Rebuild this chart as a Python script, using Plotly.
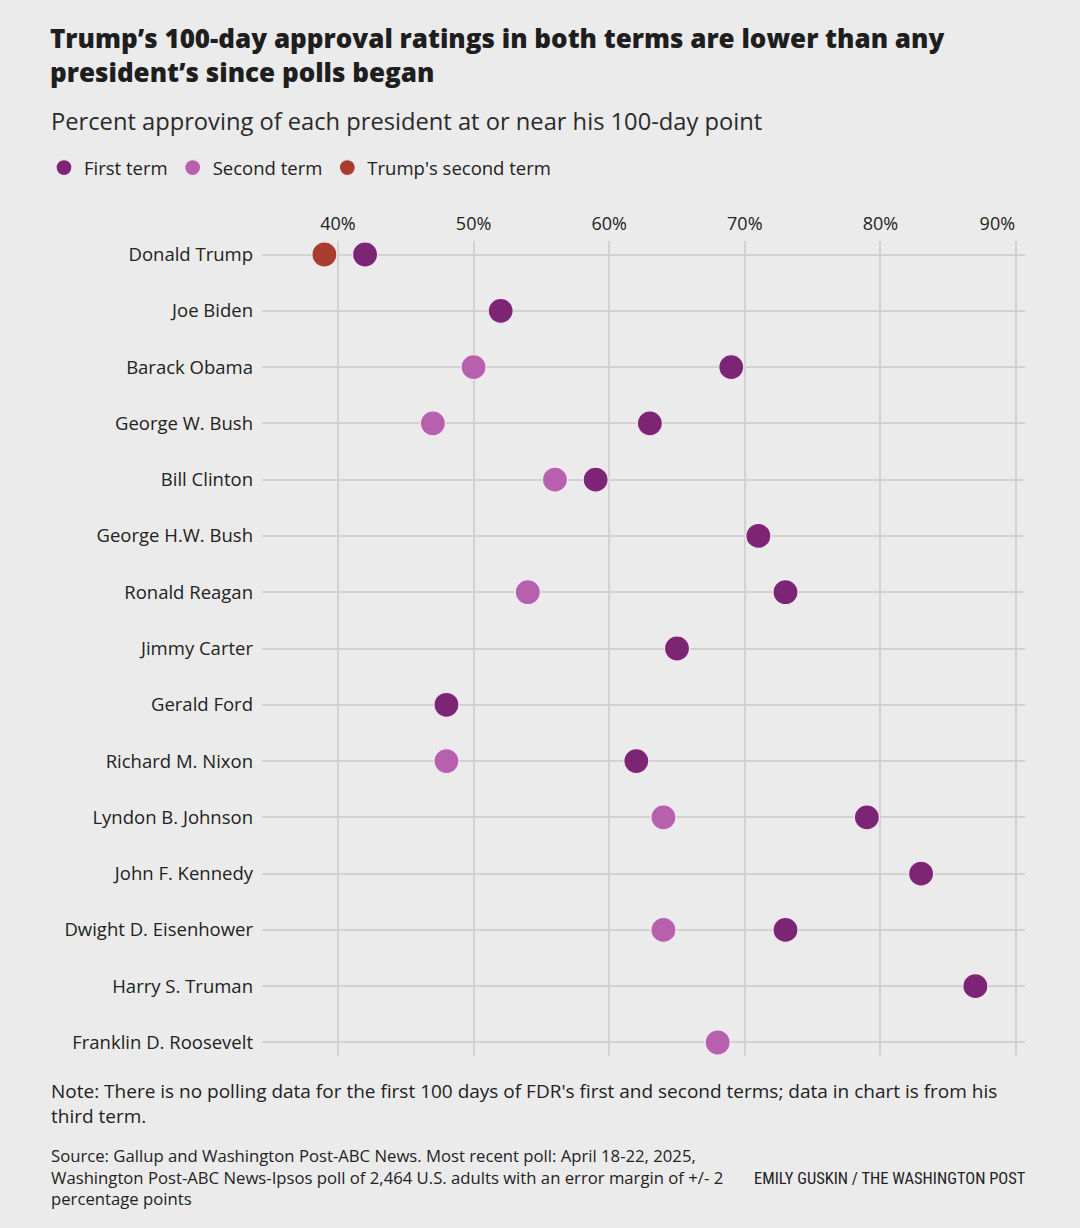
import plotly.graph_objects as go

presidents = ["Donald Trump", "Joe Biden", "Barack Obama", "George W. Bush", "Bill Clinton",
              "George H.W. Bush", "Ronald Reagan", "Jimmy Carter", "Gerald Ford",
              "Richard M. Nixon", "Lyndon B. Johnson", "John F. Kennedy",
              "Dwight D. Eisenhower", "Harry S. Truman", "Franklin D. Roosevelt"]

first_names = ["Donald Trump", "Joe Biden", "Barack Obama", "George W. Bush", "Bill Clinton",
               "George H.W. Bush", "Ronald Reagan", "Jimmy Carter", "Gerald Ford",
               "Richard M. Nixon", "Lyndon B. Johnson", "John F. Kennedy",
               "Dwight D. Eisenhower", "Harry S. Truman"]
first_vals = [42, 52, 69, 63, 59, 71, 73, 65, 48, 62, 79, 83, 73, 87]

second_names = ["Barack Obama", "George W. Bush", "Bill Clinton", "Ronald Reagan",
                "Richard M. Nixon", "Lyndon B. Johnson", "Dwight D. Eisenhower",
                "Franklin D. Roosevelt"]
second_vals = [50, 47, 56, 54, 48, 64, 64, 68]

trump2_names = ["Donald Trump"]
trump2_vals = [39]

tick_vals = [40, 50, 60, 70, 80, 90]
tick_text = ["40%", "50%", "60%", "70%", "80%", "90%"]

C_FIRST = "#7b2574"
C_SECOND = "#b760ad"
C_TRUMP = "#a73c2f"
BG = "#ebebeb"
FONT = "'Open Sans', 'Noto Sans', sans-serif"
TXT = "#222222"

W, H = 1080, 1228
L, R, T, B = 262, 55, 241, 172
PW, PH = W - L - R, H - T - B


def px2paper(x, y):
    return (x - L) / PW, (H - B - y) / PH


fig = go.Figure()
mk = dict(size=25, line=dict(width=1.2, color="#f4e6f2"))
fig.add_trace(go.Scatter(x=first_vals, y=first_names, mode="markers", name="First term",
                         marker=dict(color=C_FIRST, **mk), cliponaxis=False))
fig.add_trace(go.Scatter(x=second_vals, y=second_names, mode="markers", name="Second term",
                         marker=dict(color=C_SECOND, **mk), cliponaxis=False))
fig.add_trace(go.Scatter(x=trump2_vals, y=trump2_names, mode="markers", name="Trump's second term",
                         marker=dict(color=C_TRUMP, **mk), cliponaxis=False))

lx, ly = px2paper(44, 168)
fig.update_layout(
    width=W, height=H,
    margin=dict(l=L, r=R, t=T, b=B, pad=0),
    paper_bgcolor=BG, plot_bgcolor=BG,
    font=dict(family=FONT, color=TXT, size=18.5),
    showlegend=True,
    legend=dict(orientation="h", x=lx, y=ly, xanchor="left", yanchor="middle",
                font=dict(size=18.5, color=TXT), bgcolor="rgba(0,0,0,0)",
                itemsizing="trace", itemwidth=30, traceorder="normal"),
    xaxis=dict(side="top", range=[34.4, 90.66], tickvals=tick_vals,
               ticktext=tick_text[:-1] + ["90%" + "\u00a0" * 8],
               showgrid=True, gridcolor="#d2d2d2", gridwidth=1.5,
               zeroline=False, showline=False, ticks="", ticklabelstandoff=6,
               tickfont=dict(size=18, color=TXT)),
    yaxis=dict(categoryorder="array", categoryarray=presidents,
               range=[14.24, -0.24], showgrid=True, gridcolor="#d2d2d2", gridwidth=1.5,
               zeroline=False, showline=False, ticks="", ticklabelstandoff=8,
               tickfont=dict(size=18.5, color=TXT)),
)


def ann(text, x, y, size, color=TXT, xanchor="left", family=FONT, weight=None):
    px_, py_ = px2paper(x, y)
    f = dict(size=size, color=color, family=family)
    if weight:
        f["weight"] = weight
    fig.add_annotation(text=text, x=px_, y=py_, xref="paper", yref="paper",
                       xanchor=xanchor, yanchor="middle", showarrow=False,
                       align=xanchor if xanchor != "center" else "center", font=f)


ann("Trump’s 100-day approval ratings in both terms are lower than any<br>president’s since polls began",
    48, 55, 26, weight=800, color="#1e1e1e")
ann("Percent approving of each president at or near his 100-day point", 49, 121, 23.7, color="#2a2a2a")
ann("Note: There is no polling data for the first 100 days of FDR's first and second terms; data in chart is from his<br>third term.",
    49, 1103, 19)
ann("Source: Gallup and Washington Post-ABC News. Most recent poll: April 18-22, 2025,<br>Washington Post-ABC News-Ipsos poll of 2,464 U.S. adults with an error margin of +/- 2<br>percentage points",
    49, 1177, 16.7)
ann("EMILY GUSKIN / THE WASHINGTON POST", 1028, 1178, 16.5, xanchor="right",
    family="'Liberation Sans Narrow', 'Roboto Condensed', Roboto, sans-serif")

fig.write_html("out.html")
